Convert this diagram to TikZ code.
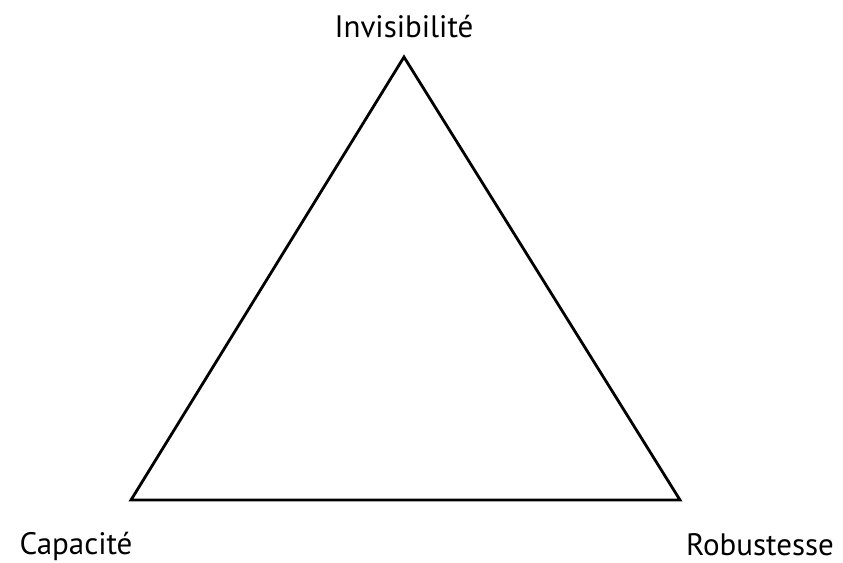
\documentclass[tikz,border=0pt]{standalone}
\usepackage{fontspec}
\setmainfont{PT Sans}
\begin{document}
\begin{tikzpicture}[x=1pt,y=-1pt,
  lbl/.style={font=\fontsize{31}{34}\selectfont, inner sep=0pt, anchor=base},
  edge/.style={line width=2.8pt, line join=miter}]
\useasboundingbox[fill=white] (0,0) rectangle (843,562);
\coordinate (T) at (404,57);
\coordinate (L) at (131,500);
\coordinate (R) at (680,500);
\draw[edge] (T) -- (L) -- (R) -- cycle;
\node[lbl] (ti) at (404,37) {Invisibilité};
\node[lbl] (tc) at (76,554) {Capacité};
\node[lbl] (tr) at (760,555) {Robustesse};
\end{tikzpicture}
\end{document}
